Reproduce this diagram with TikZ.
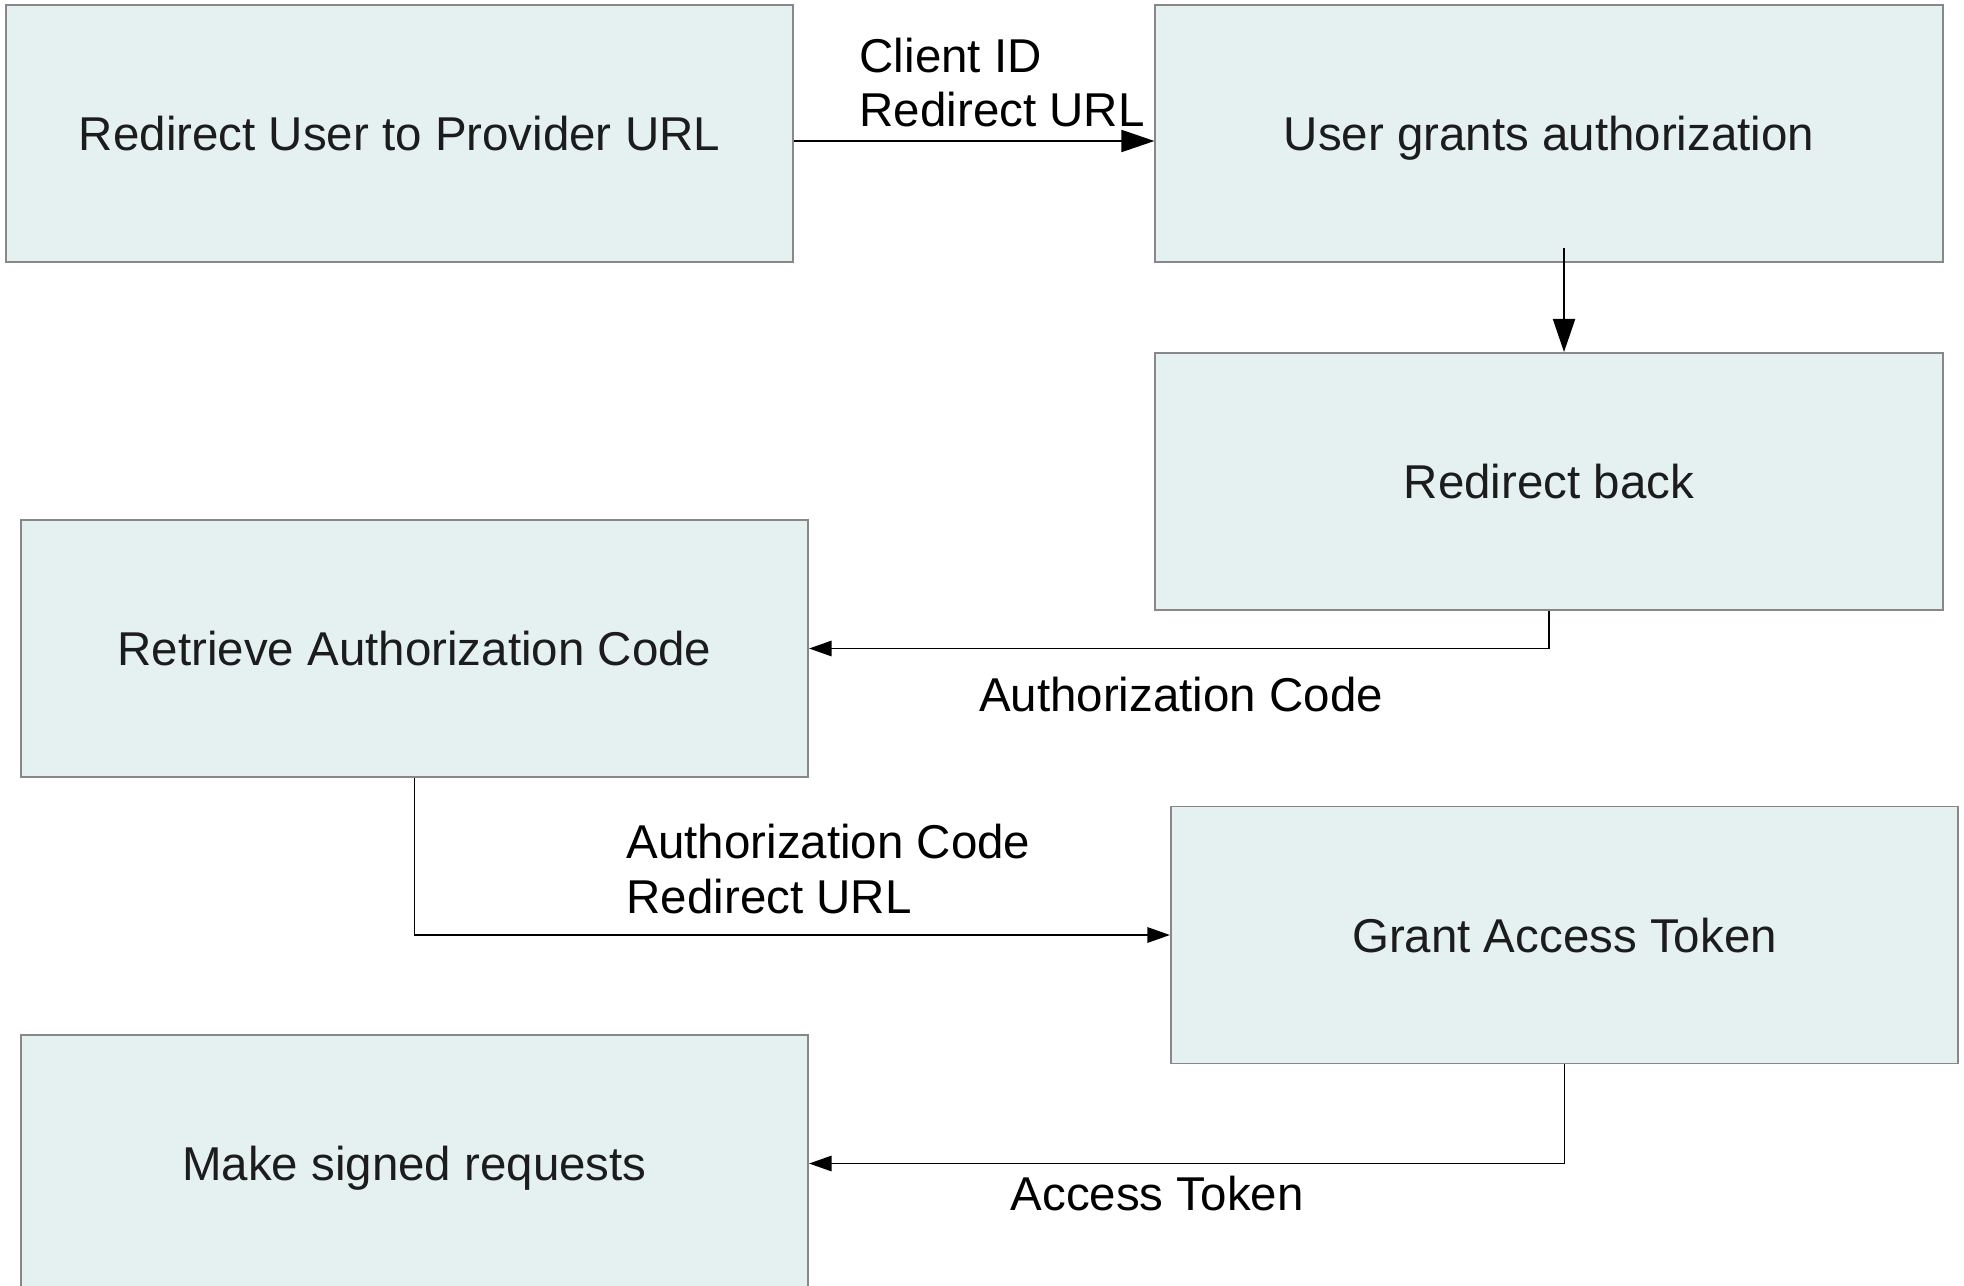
\documentclass[tikz,border=0pt]{standalone}
\usepackage{fontspec}
\setmainfont{Liberation Sans}
\usetikzlibrary{arrows.meta,positioning}

\definecolor{stagefill}{HTML}{E5F1F1}
\definecolor{stageline}{HTML}{888888}
\definecolor{stagetext}{HTML}{1C1C1C}
\newcommand\flowfont{\fontsize{13.5}{15.36}\selectfont}

\begin{document}
\begin{tikzpicture}[x=0.01cm,y=-0.01cm,
  stage/.style={draw=stageline,fill=stagefill,line width=0.5pt,minimum width=7.87cm,minimum height=2.57cm,inner sep=0pt,text=stagetext,font=\flowfont,text height=9.7pt,text depth=0pt},
  flow/.style={line width=0.45pt,draw=black},
  bigtip/.style={-{Triangle[length=9.4pt,width=6.3pt]}},
  smalltip/.style={-{Triangle[length=6.4pt,width=4.4pt]}},
  note/.style={inner sep=0pt,font=\flowfont,align=left}]
\useasboundingbox (0,0) rectangle (1964,1285);
\clip (0,0) rectangle (1964,1285);

% the six steps
\node[stage] (redirect) at (399.5,133.5) {Redirect User to Provider URL};
\node[stage] (grants)   at (1549,133.5)  {User grants authorization};
\node[stage] (back)     at (1549,481.5)  {Redirect back};
\node[stage] (retrieve) at (414.5,648.5) {Retrieve Authorization Code};
\node[stage] (grant)    at (1564.5,935)  {Grant Access Token};
\node[stage] (signed)   at (414.5,1163.5) {Make signed requests};

% connectors
\draw[flow,bigtip] ([yshift=-0.075cm]redirect.east) -- ([yshift=-0.075cm]grants.west);
\draw[flow,bigtip] ([xshift=0.15cm,yshift=0.15cm]grants.south) -- ([xshift=0.15cm]back.north);
\draw[flow,smalltip] (back.south) |- (retrieve.east);
\draw[flow,smalltip] (retrieve.south) |- (grant.west);
\draw[flow,smalltip] (grant.south) |- (signed.east);

% what is passed along (base is the last line)
\node[note,anchor=base west] (clientlbl) at (859,127) {Client ID\\Redirect URL};
\node[note,anchor=base] (codelbl) at (1181,711) {Authorization Code};
\node[note,anchor=base west] (paramlbl) at (626,913) {Authorization Code\\Redirect URL};
\node[note,anchor=base west] (tokenlbl) at (1010,1210) {Access Token};
\end{tikzpicture}
\end{document}
